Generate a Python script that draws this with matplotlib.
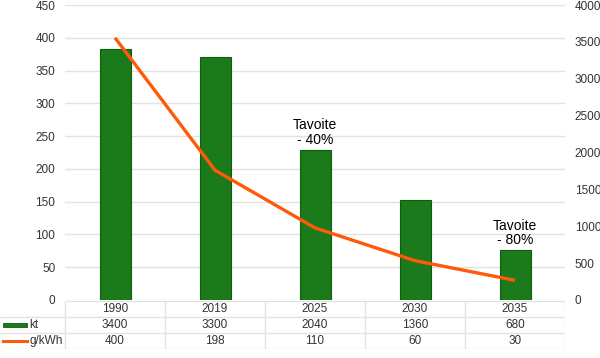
import numpy as np
import matplotlib.pyplot as plt
from matplotlib.patches import Rectangle

plt.rcParams["font.family"] = ["Liberation Sans", "DejaVu Sans"]

years = ["1990", "2019", "2025", "2030", "2035"]
kt = [3400, 3300, 2040, 1360, 680]
g_kwh = [400, 198, 110, 60, 30]
left_ticks = [0, 50, 100, 150, 200, 250, 300, 350, 400, 450]
right_ticks = [0, 500, 1000, 1500, 2000, 2500, 3000, 3500, 4000]
notes = {2: "Tavoite\n- 40%", 4: "Tavoite\n- 80%"}

BAR = "#1b7a1b"
BAR_EDGE = "#0e5c0e"
LINE = "#ff5a0a"
TXT = "#333333"
GRID = "#e3e3e3"
FS = 8.5
W, H = 600, 358

fig = plt.figure(figsize=(6, 3.58), dpi=100)
x = np.arange(len(years))

# main plot area: 65..565 px wide, 5..300 px tall
ax = fig.add_axes([65 / W, (H - 300) / H, 500 / W, 295 / H])
ax.set_xlim(-0.5, len(years) - 0.5)
ax.set_ylim(0, 450)
ax.set_yticks(left_ticks)
ax.grid(axis="y", color=GRID, linewidth=1)
ax.set_axisbelow(True)
ax.set_xticks([])
ax.tick_params(axis="y", length=0, pad=7, labelsize=FS, labelcolor=TXT)
for s in ax.spines.values():
    s.set_visible(False)

# bars on right axis
axb = ax.twinx()
axb.set_ylim(0, 4000)
axb.set_yticks(right_ticks)
axb.tick_params(axis="y", length=0, pad=7, labelsize=FS, labelcolor=TXT)
axb.bar(x, kt, width=0.31, color=BAR, edgecolor=BAR_EDGE, linewidth=0.8)
for i, txt in notes.items():
    axb.annotate(txt, (x[i], kt[i]), xytext=(0, 2), textcoords="offset points",
                 ha="center", va="bottom", fontsize=10, color="black",
                 linespacing=1.05)
for s in axb.spines.values():
    s.set_visible(False)

# line on left scale, on top
axl = ax.twinx()
axl.set_ylim(0, 450)
axl.set_yticks([])
axl.plot(x, g_kwh, color=LINE, linewidth=2.4, solid_capstyle="butt")
for s in axl.spines.values():
    s.set_visible(False)

# data table: 0..565 px wide, rows 301..349 px
axt = fig.add_axes([0, (H - 349) / H, 565 / W, 48 / H])
axt.set_xlim(-0.5 - 0.65, len(years) - 0.5)
axt.set_ylim(0, 3)
axt.axis("off")
x0 = -1.15
xl = -0.5
xr = len(years) - 0.5
axt.hlines(3, xl, xr, color=GRID, linewidth=1)
axt.hlines([0, 1, 2], x0, xr, color=GRID, linewidth=1)
axt.vlines(np.arange(len(years) + 1) - 0.5, 0, 3, color=GRID, linewidth=1)

for i, y in enumerate(years):
    axt.text(x[i], 2.5, y, ha="center", va="center", fontsize=FS, color=TXT)
    axt.text(x[i], 1.5, str(kt[i]), ha="center", va="center", fontsize=FS, color=TXT)
    axt.text(x[i], 0.5, str(g_kwh[i]), ha="center", va="center", fontsize=FS, color=TXT)

axt.add_patch(Rectangle((x0 + 0.03, 1.35), 0.24, 0.3, facecolor=BAR, edgecolor=BAR_EDGE, linewidth=0.6))
axt.plot([x0 + 0.03, x0 + 0.27], [0.5, 0.5], color=LINE, linewidth=2.2)
axt.text(x0 + 0.29, 1.5, "kt", ha="left", va="center", fontsize=FS, color=TXT)
axt.text(x0 + 0.29, 0.5, "g/kWh", ha="left", va="center", fontsize=FS, color=TXT)

fig.savefig("out.png", dpi=100)
